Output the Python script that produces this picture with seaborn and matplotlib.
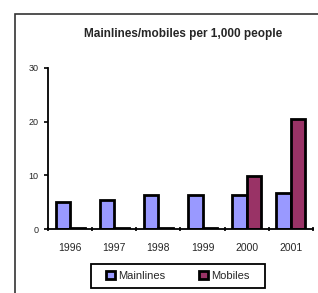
import pandas as pd
import numpy as np
import matplotlib.pyplot as plt
import seaborn as sns
from matplotlib.patches import Rectangle

sns.set_theme(style="white")
plt.rcParams['font.family'] = ['Liberation Sans', 'DejaVu Sans']

# Data
years = ['1996', '1997', '1998', '1999', '2000', '2001']
mainlines = [5.0, 5.4, 6.3, 6.3, 6.3, 6.7]
mobiles = [0.3, 0.3, 0.3, 0.3, 9.8, 20.5]
series_names = ['Mainlines', 'Mobiles']
palette = {'Mainlines': '#9999FF', 'Mobiles': '#993366'}

df = pd.DataFrame({
    'Year': years * 2,
    'Value': mainlines + mobiles,
    'Series': [series_names[0]] * len(years) + [series_names[1]] * len(years),
})

W, H = 318, 293
fig = plt.figure(figsize=(W / 100, H / 100), dpi=100)
ax = fig.add_axes([0.151, 0.218, 0.833, 0.55])

sns.barplot(data=df, x='Year', y='Value', hue='Series', palette=palette,
            width=0.66, edgecolor='black', linewidth=2.0, saturation=1,
            ax=ax, legend=False)

ax.set_ylim(0, 30)
ax.set_xlim(-0.5, len(years) - 0.5)
ax.set_yticks([0, 10, 20, 30])
ax.set_xlabel('')
ax.set_ylabel('')
ax.set_title('Mainlines/mobiles per 1,000 people', fontsize=8.5,
             fontweight='bold', pad=22, x=0.51)

# spines
for side in ['top', 'right']:
    ax.spines[side].set_visible(False)
for side in ['left', 'bottom']:
    ax.spines[side].set_color('black')
    ax.spines[side].set_linewidth(1.3)

ax.tick_params(axis='y', which='major', left=True, length=3, width=1.2,
               color='black', labelsize=6.5, pad=4, direction='out')
ax.tick_params(axis='x', which='major', bottom=False, labelsize=7.5, pad=4)
ax.set_xticks(np.arange(-0.5, len(years), 1.0), minor=True)
ax.tick_params(axis='x', which='minor', bottom=True, length=3, width=1.2,
               color='black', direction='inout')

# legend (entries without frame, box drawn separately)
handles = [Rectangle((0, 0), 1, 1, facecolor=palette[s], edgecolor='black',
                     linewidth=2.0) for s in series_names]
fig.legend(handles, series_names, loc='center', bbox_to_anchor=(178 / W, 1 - 276 / H),
           ncol=2, fontsize=8, frameon=False,
           handlelength=0.8, handleheight=0.8, handletextpad=0.3,
           columnspacing=3.0, borderpad=0.0)
fig.patches.append(Rectangle((91 / W, 1 - 288 / H), 174 / W, 24 / H,
                             transform=fig.transFigure, fill=False,
                             edgecolor='black', linewidth=1.3))

# outer chart border (cropped at right/bottom in the reference)
fig.patches.append(Rectangle((15 / W, -0.05), 1.0, 1 - 14 / H + 0.05,
                             transform=fig.transFigure, fill=False,
                             edgecolor='#333333', linewidth=1.2))

fig.savefig('out.png', dpi=100)
